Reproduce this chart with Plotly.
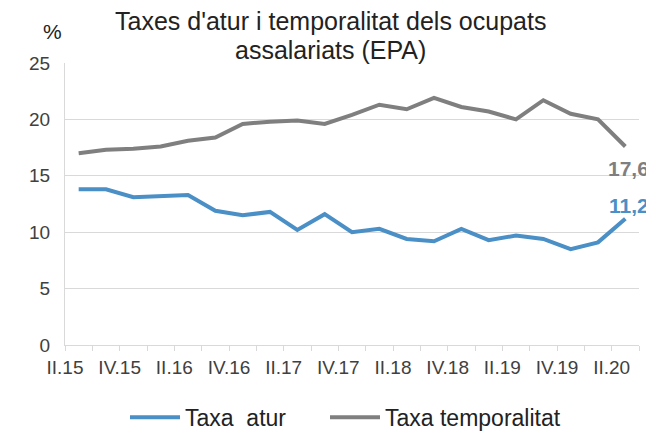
import plotly.graph_objects as go

quarters = ["II.15", "III.15", "IV.15", "I.16", "II.16", "III.16", "IV.16",
            "I.17", "II.17", "III.17", "IV.17", "I.18", "II.18", "III.18",
            "IV.18", "I.19", "II.19", "III.19", "IV.19", "I.20", "II.20"]
taxa_atur = [13.8, 13.8, 13.1, 13.2, 13.3, 11.9, 11.5, 11.8, 10.2, 11.6, 10.0,
             10.3, 9.4, 9.2, 10.3, 9.3, 9.7, 9.4, 8.5, 9.1, 11.2]
taxa_temp = [17.0, 17.3, 17.4, 17.6, 18.1, 18.4, 19.6, 19.8, 19.9, 19.6, 20.4,
             21.3, 20.9, 21.9, 21.1, 20.7, 20.0, 21.7, 20.5, 20.0, 17.6]
y_ticks = [0, 5, 10, 15, 20, 25]
title_lines = ["Taxes d'atur i temporalitat dels ocupats", "assalariats (EPA)"]

BLUE = "#4a8fc6"
GRAY = "#7f7f7f"
FONT = "Liberation Sans, Arial, sans-serif"
W, H = 654, 432
OFF = 8  # page body margin
# target plot area in page pixels: x 65..639, y 63..345.5
L = 65 - OFF
T = 63 - OFF
R = W - (639 - OFF)
B = H - (345.5 - OFF)
PW, PH = W - L - R, H - T - B

idx = list(range(len(quarters)))

fig = go.Figure()
fig.add_trace(go.Scatter(x=idx, y=taxa_atur, mode="lines", name="Taxa  atur",
                         line=dict(color=BLUE, width=4), legend="legend"))
fig.add_trace(go.Scatter(x=idx, y=taxa_temp, mode="lines", name="Taxa temporalitat",
                         line=dict(color=GRAY, width=4), legend="legend2"))

# tick labels sit on category boundaries (every other quarter labelled)
tickvals = [i - 0.5 for i in range(len(quarters) + 1)]
ticktext = [(quarters[i] if (i < len(quarters) and i % 2 == 0) else "") for i in range(len(quarters) + 1)]

def fmt(v):
    return f"{v:.1f}".replace(".", ",")

fig.add_annotation(x=idx[-1], y=taxa_temp[-1], text="<b>" + fmt(taxa_temp[-1]) + "</b>",
                   showarrow=False, xanchor="center", yanchor="middle",
                   xshift=3, yshift=-22, font=dict(family=FONT, size=21, color=GRAY))
fig.add_annotation(x=idx[-1], y=taxa_atur[-1], text="<b>" + fmt(taxa_atur[-1]) + "</b>",
                   showarrow=False, xanchor="center", yanchor="middle",
                   xshift=4, yshift=13, font=dict(family=FONT, size=21, color=BLUE))

def px_x(px):  # page pixel -> paper
    return (px - OFF - L) / PW

def px_y(py):
    return (H - B - (py - OFF)) / PH

fig.add_annotation(xref="paper", yref="paper", x=px_x(52), y=px_y(31), text="%",
                   showarrow=False, xanchor="center", yanchor="middle",
                   font=dict(family=FONT, size=21, color="#222222"))
fig.add_annotation(xref="paper", yref="paper", x=px_x(330), y=px_y(21), text=title_lines[0],
                   showarrow=False, xanchor="center", yanchor="middle",
                   font=dict(family=FONT, size=25, color="#222222"))
fig.add_annotation(xref="paper", yref="paper", x=px_x(330), y=px_y(50), text=title_lines[1],
                   showarrow=False, xanchor="center", yanchor="middle",
                   font=dict(family=FONT, size=25, color="#222222"))

legend_common = dict(orientation="h", yanchor="middle",
                     font=dict(family=FONT, size=23, color="#222222"),
                     itemwidth=50, bgcolor="rgba(0,0,0,0)")

fig.update_layout(
    width=W, height=H,
    margin=dict(l=L, r=R, t=T, b=B, autoexpand=False),
    paper_bgcolor="white", plot_bgcolor="white",
    font=dict(family=FONT, color="#595959"),
    showlegend=True,
    legend=dict(x=px_x(125), xanchor="left", y=px_y(418), **legend_common),
    legend2=dict(x=px_x(325), xanchor="left", y=px_y(418), **legend_common),
    xaxis=dict(range=[-0.5, len(quarters) - 0.5], tickmode="array",
               tickvals=tickvals, ticktext=ticktext, ticks="outside", ticklen=5,
               tickcolor="#d9d9d9", showline=True, linecolor="#d9d9d9", linewidth=1,
               showgrid=False, zeroline=False, automargin=False,
               tickfont=dict(family=FONT, size=19, color="#404040")),
    yaxis=dict(range=[0, 25], tickmode="array", tickvals=y_ticks,
               showgrid=True, gridcolor="#d9d9d9", gridwidth=1,
               showline=True, linecolor="#d9d9d9", linewidth=1, zeroline=False,
               ticks="", ticklabelstandoff=10, automargin=False,
               tickfont=dict(family=FONT, size=19, color="#404040")),
)

fig.write_html("out.html")
